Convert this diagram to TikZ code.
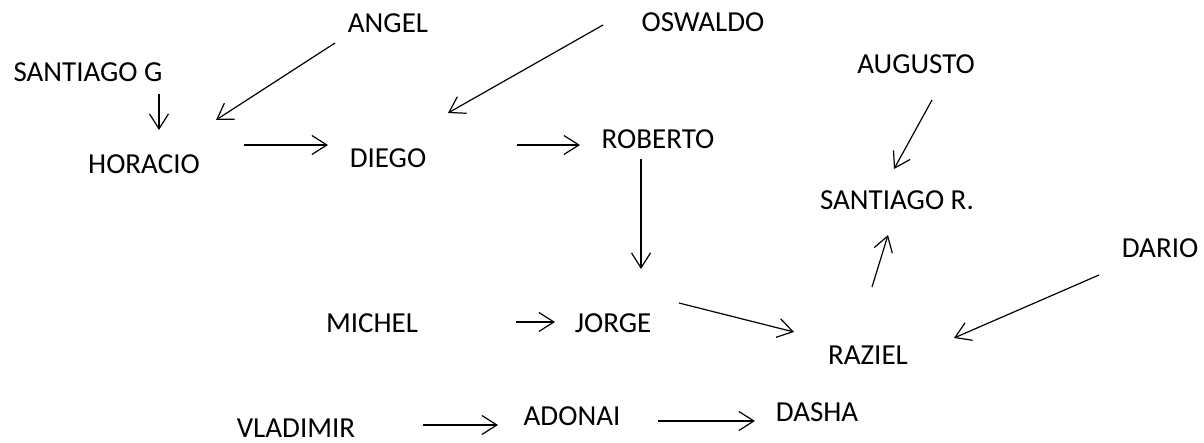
\documentclass[tikz,border=0pt]{standalone}
\usepackage{fontspec}
\setmainfont{Carlito}
\usepackage{tikz}
\usetikzlibrary{arrows.meta}

\begin{document}
\begin{tikzpicture}[
  x=1pt, y=-1pt,
  person/.style={inner sep=0pt, font=\fontsize{29}{34}\selectfont},
  arr/.style={-{Straight Barb[length=15pt,width=19pt]}, line width=1.2pt}
]
\useasboundingbox (0,0) rectangle (1204,443);
\node[person] (sg) at (88,72) {SANTIAGO G};
\node[person] (angel) at (388,23) {ANGEL};
\node[person] (oswaldo) at (703,22) {OSWALDO};
\node[person] (augusto) at (916,64) {AUGUSTO};
\node[person] (horacio) at (144,164) {HORACIO};
\node[person] (diego) at (388,158) {DIEGO};
\node[person] (roberto) at (658,139) {ROBERTO};
\node[person] (santr) at (897,200) {SANTIAGO R.};
\node[person] (dario) at (1160,248) {DARIO};
\node[person] (michel) at (372,323) {MICHEL};
\node[person] (jorge) at (613,323) {JORGE};
\node[person] (raziel) at (868,355) {RAZIEL};
\node[person] (vladimir) at (296,428) {VLADIMIR};
\node[person] (adonai) at (572,416) {ADONAI};
\node[person] (dasha) at (817,412) {DASHA};
\draw[arr] ([shift={(71,22)}]sg.center) -- ([shift={(15,-34)}]horacio.center);
\draw[arr] ([shift={(-53,20)}]angel.center) -- ([shift={(72,-44)}]horacio.center);
\draw[arr] ([shift={(100,-19)}]horacio.center) -- ([shift={(-60,-13)}]diego.center);
\draw[arr] ([shift={(-100,3)}]oswaldo.center) -- ([shift={(60,-45)}]diego.center);
\draw[arr] ([shift={(129,-13)}]diego.center) -- ([shift={(-78,6)}]roberto.center);
\draw[arr] ([shift={(-17,20)}]roberto.center) -- ([shift={(28,-54)}]jorge.center);
\draw[arr] ([shift={(16,36)}]augusto.center) -- ([shift={(-3,-31)}]santr.center);
\draw[arr] ([shift={(66,-20)}]jorge.center) -- ([shift={(-74,-23)}]raziel.center);
\draw[arr] ([shift={(4,-68)}]raziel.center) -- ([shift={(-9,35)}]santr.center);
\draw[arr] ([shift={(-61,27)}]dario.center) -- ([shift={(86,-17)}]raziel.center);
\draw[arr] ([shift={(144,-1)}]michel.center) -- ([shift={(-58,-1)}]jorge.center);
\draw[arr] ([shift={(127,-3)}]vladimir.center) -- ([shift={(-74,9)}]adonai.center);
\draw[arr] ([shift={(86,5)}]adonai.center) -- ([shift={(-62,9)}]dasha.center);
\end{tikzpicture}
\end{document}
